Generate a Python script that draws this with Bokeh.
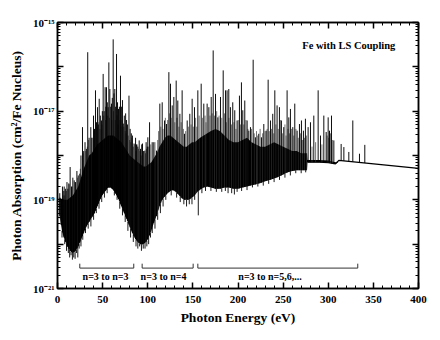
import numpy as np
from bokeh.plotting import figure
from bokeh.models import Range1d, FixedTicker, LinearAxis, LogAxis, CustomJSTickFormatter
from bokeh.core.properties import value
from bokeh.embed import file_html
from bokeh.resources import INLINE

# ---------------- data (log10 of cm^2 / Fe nucleus) ----------------
# dense unresolved band: (energy eV, lower edge, upper edge)
band_rows = [
    (2, -19.3, -18.95), (5, -19.7, -19.0), (8, -19.9, -19.0), (11, -20.05, -19.0),
    (14, -20.15, -18.95), (17, -20.2, -18.9), (20, -20.15, -18.8), (23, -20.05, -18.7),
    (26, -19.9, -18.5), (29, -19.75, -18.3), (32, -19.6, -18.15), (35, -19.5, -18.0),
    (38, -19.4, -17.95), (41, -19.3, -17.85), (44, -19.15, -17.75), (47, -19.0, -17.7),
    (50, -18.88, -17.65), (53, -18.8, -17.6), (56, -18.72, -17.55), (59, -18.72, -17.55),
    (62, -18.78, -17.55), (65, -18.88, -17.6), (68, -19.0, -17.65), (71, -19.15, -17.7),
    (74, -19.3, -17.8), (77, -19.45, -17.9), (80, -19.6, -18.0), (83, -19.75, -18.05),
    (86, -19.87, -18.1), (89, -19.95, -18.15), (92, -20.0, -18.2), (95, -20.0, -18.25),
    (98, -19.95, -18.25), (101, -19.85, -18.2), (104, -19.7, -18.15), (107, -19.5, -18.05),
    (110, -19.35, -17.95), (113, -19.15, -17.8), (116, -19.0, -17.7), (119, -18.92, -17.6),
    (122, -18.85, -17.55), (125, -18.8, -17.55), (128, -18.78, -17.6), (131, -18.82, -17.65),
    (134, -18.88, -17.7), (137, -18.95, -17.75), (140, -19.0, -17.8), (143, -19.0, -17.8),
    (146, -19.0, -17.75), (149, -18.95, -17.7), (152, -18.9, -17.7), (155, -18.82, -17.65),
    (158, -18.77, -17.6), (162, -18.72, -17.55), (166, -18.7, -17.5), (170, -18.72, -17.45),
    (175, -18.75, -17.4), (180, -18.75, -17.45), (185, -18.72, -17.55), (190, -18.72, -17.65),
    (195, -18.75, -17.7), (200, -18.75, -17.7), (205, -18.72, -17.65), (210, -18.7, -17.6),
    (215, -18.67, -17.7), (220, -18.65, -17.75), (225, -18.62, -17.8), (230, -18.58, -17.8),
    (235, -18.55, -17.75), (240, -18.52, -17.7), (245, -18.48, -17.75), (250, -18.43, -17.8),
    (255, -18.38, -17.85), (260, -18.35, -17.9), (265, -18.33, -17.9), (270, -18.33, -17.95),
    (276.5, -18.33, -17.95), (277, -18.15, -18.1), (290, -18.15, -18.1), (300, -18.16, -18.11),
    (308, -18.19, -18.15), (311, -18.15, -18.13),
]

# smooth continuum above the last absorption edge
continuum_rows = [(277, -18.15), (290, -18.15), (300, -18.16), (308, -18.19),
                  (311.7, -18.11), (400, -18.29)]

# resolved lines (energy eV, peak)
line_rows = [
    (2.5, -18.85), (4, -19.0), (5.5, -18.7), (7, -18.8), (7.4, -18.7), (9, -18.75),
    (10.5, -18.6), (11.5, -18.75), (12.5, -18.63), (14, -18.26), (15.5, -18.7), (17, -18.5),
    (18.5, -18.56), (20, -18.6), (21.5, -18.35), (23, -18.45), (24.7, -18.41), (26, -18.0),
    (27.7, -17.36), (29, -17.9), (30.5, -17.7), (32, -17.85), (33.5, -15.67), (35, -17.6),
    (36.9, -17.36), (38.3, -17.6), (39.9, -17.1), (41, -17.4), (42.1, -16.53), (43.2, -17.25),
    (44.3, -16.91), (45.2, -17.3), (46.2, -16.72), (47.5, -17.1), (48.8, -17.21), (49.7, -17.0),
    (50.6, -16.16), (51.7, -17.0), (52.8, -16.46), (53.6, -16.9), (54.3, -16.46), (55.2, -16.8),
    (56.1, -16.91), (56.9, -15.9), (58.0, -16.5), (59.0, -16.9), (59.8, -16.83), (60.7, -16.7),
    (61.7, -15.38), (62.6, -16.6), (63.5, -16.5), (64.4, -16.9), (65.4, -15.71), (66.5, -16.8),
    (67.6, -16.95), (68.6, -16.9), (69.8, -16.2), (70.8, -16.9), (72.0, -16.75), (72.9, -17.28),
    (74.0, -17.1), (75.5, -17.05), (76.5, -17.2), (77.5, -17.3), (79.2, -16.65), (80.5, -17.4),
    (81.8, -17.5), (83, -17.55), (84.8, -17.73), (86.5, -17.6), (87.5, -17.75), (89, -17.8),
    (90.5, -17.66), (92, -17.85), (93.3, -17.75), (94.2, -17.73), (95.5, -17.9), (96.8, -17.89),
    (98.2, -17.7), (99.5, -17.8),
    (100.1, -17.59), (102.0, -17.25), (104.9, -17.7), (106.7, -17.7), (109.7, -17.89),
    (113.4, -16.83), (116.0, -16.8), (118.6, -17.21), (120.8, -17.29), (123.4, -16.12),
    (125.2, -16.38), (127.1, -16.87), (128.9, -16.68), (131.5, -16.31), (133.3, -16.76),
    (135.6, -17.06), (138.1, -16.53), (140.7, -17.51), (143.7, -17.21), (146.6, -17.06),
    (149.2, -16.72), (151.8, -16.91), (155.5, -16.53), (159.2, -16.38), (162.1, -16.83),
    (165.8, -16.83), (167.7, -16.91), (170.3, -16.68), (172.5, -15.63), (175.1, -16.61),
    (177.7, -17.14), (180.6, -16.68), (183.6, -16.08), (186.2, -16.53), (187.9, -16.53),
    (189.8, -16.5), (191.6, -16.91), (194.2, -16.8), (196.4, -16.98), (199.0, -17.21),
    (201.6, -16.65), (203.8, -16.35), (205.3, -16.98), (207.5, -16.76), (210.1, -17.21),
    (212.0, -17.44), (213.8, -17.36), (216.8, -15.84), (219.3, -17.59), (223.0, -17.51),
    (226.0, -17.59), (228.6, -17.29), (231.2, -17.44), (233.4, -16.29), (236.0, -17.21),
    (238.5, -17.06), (240.8, -16.53), (243.3, -16.87), (245.9, -16.91), (248.1, -17.21),
    (250.7, -17.36), (254.4, -16.53), (256.3, -17.14), (258.1, -16.95), (260.7, -17.36),
    (262.9, -16.83), (265.5, -17.44), (268.1, -17.29), (270.3, -17.21), (272.5, -17.44),
    (274.7, -17.17), (277.7, -17.36), (280.3, -17.25), (284.0, -17.1), (288.8, -16.53),
    (291.4, -17.55), (295.1, -17.1), (297.7, -17.47), (299.9, -17.14), (301.4, -17.44),
    (303.6, -17.1), (306.2, -17.66), (314.3, -17.74), (317.3, -17.81), (322.8, -17.92),
    (327.2, -17.21), (334.6, -17.96), (340.5, -17.76),
]

# weaker lines filling the band top
fill_rows = [
    (3, -18.95), (6.3, -18.9), (8, -18.9), (10, -18.8), (13, -18.65), (16.2, -18.7),
    (19.3, -18.6), (22.3, -18.5), (25.3, -18.3), (28.4, -17.95), (31.3, -17.9), (33, -17.8),
    (34.5, -17.65), (37.6, -17.6), (40.5, -17.45), (43.7, -17.35), (45.7, -17.25), (47, -17.4),
    (49.2, -17.3), (51.2, -17.1), (53.2, -17.2), (55.7, -17.1), (57.5, -17.15), (60.2, -17.2),
    (62.1, -17.0), (64, -17.2), (66, -17.1), (67.1, -17.3), (69.2, -17.2), (70.3, -17.35),
    (71.4, -17.2), (73.5, -17.35), (75, -17.45), (76, -17.5), (78.3, -17.55), (80, -17.65),
    (81.2, -17.7), (82.4, -17.6), (84, -17.8), (85.7, -17.75), (87, -17.9), (88.3, -17.75),
    (89.8, -17.85), (91.3, -17.9), (92.7, -18.0), (95, -17.9), (97.5, -17.95),
    (98.5, -17.85), (101, -17.8), (103.3, -17.75), (108, -17.7), (111, -17.65), (112, -17.45),
    (114.5, -17.35), (117, -17.4), (119.5, -17.15), (122, -17.2), (124.3, -17.05), (126, -17.15),
    (130, -17.25), (132.4, -17.15), (134.5, -17.35), (137, -17.25), (139.5, -17.4), (142, -17.45),
    (145, -17.35), (148, -17.3), (150.5, -17.35), (153, -17.15), (154.3, -17.35), (157, -17.1),
    (160.5, -17.15), (163.5, -17.1), (164.5, -17.25), (169, -17.1), (171.4, -17.05), (174, -17.1),
    (176.4, -17.0), (179, -17.1), (182, -17.15), (185, -17.05), (187, -17.25), (190, -17.15),
    (192.8, -17.3), (195.5, -17.25), (197.7, -17.4), (200.3, -17.2), (202.7, -17.3),
    (206.4, -17.3), (208.8, -17.2), (211, -17.4), (215, -17.4), (218, -17.5), (220.5, -17.45),
    (221.8, -17.55), (224.5, -17.4), (227.3, -17.5), (230, -17.45), (232.3, -17.4),
    (234.7, -17.45), (237.2, -17.4), (239.6, -17.5), (242, -17.3), (244.6, -17.4), (247, -17.2),
    (249.4, -17.5), (252, -17.3), (253.2, -17.55), (255.4, -17.4), (257.2, -17.5),
    (259.4, -17.4), (261.8, -17.55), (264.2, -17.4), (266.8, -17.6), (269.2, -17.5),
    (271.4, -17.65), (273.6, -17.6), (275.8, -17.55),
    (282, -17.8), (286, -17.7), (293, -17.75), (298.8, -17.55), (300.6, -17.6),
    (302.5, -17.5), (304.8, -17.65),
]

# window lines reaching below the band (energy eV, minimum)
dip_rows = [
    (5, -19.85), (8, -20.0), (10, -20.15), (12, -20.2), (13.5, -20.3), (15, -20.25),
    (16.5, -20.35), (18, -20.3), (19.5, -20.33), (21, -20.2), (22.5, -20.3), (24, -20.1),
    (26, -20.05), (28, -19.9), (31, -19.75), (34, -19.65), (37, -19.6), (40, -19.45),
    (43, -19.3), (46, -19.2), (49, -19.05), (52, -18.95), (55, -18.85), (63, -18.9),
    (66, -19.0), (69, -19.2), (72, -19.35), (75, -19.5), (78, -19.7), (81, -19.85),
    (84, -19.95), (87, -20.05), (89, -20.1), (91, -20.05), (93, -20.15), (95, -20.1),
    (97, -20.1), (99, -20.05), (101, -20.0), (103, -19.85), (105, -19.75), (108, -19.65),
    (111, -19.45), (114, -19.3), (117, -19.15), (120, -19.0), (126, -18.9), (132, -18.95),
    (136, -19.05), (140, -19.1), (143, -19.15), (146, -19.1), (149, -19.1), (152, -19.0),
    (156, -19.35), (160, -18.85), (164, -18.8), (170, -18.8), (176, -18.82), (182, -18.82),
    (186, -18.8), (189, -18.85), (193, -18.85), (196, -18.88), (199, -18.82), (204, -18.8),
    (210, -18.78), (216, -18.72), (222, -18.7), (228, -18.68), (234, -18.64), (240, -18.6),
    (246, -18.55), (252, -18.5), (258, -18.45), (264, -18.4), (270, -18.4), (275, -18.38),
]

x_major = [0, 50, 100, 150, 200, 250, 300, 350, 400]
x_minor = list(range(0, 401, 10))
y_decades = [-21, -20, -19, -18, -17, -16, -15]

bracket_start = [24.7, 93.8, 155.5]
bracket_end = [84.5, 150.3, 332.7]
bracket_text = ["n=3 to n=3", "n=3 to n=4", "n=3 to n=5,6,..."]
bracket_text_x = [53.2, 117.5, 235.5]
bracket_level = -20.54
bracket_tip = -20.44
bracket_text_level = -20.73

title_text = "Fe with LS Coupling"
title_x = 322.8
title_level = -15.53

# ---------------- figure ----------------
SERIF = "Liberation Serif"

p = figure(width=432, height=332, x_range=Range1d(0, 400), y_range=Range1d(1e-21, 1e-15),
           y_axis_type="log", output_backend="svg", toolbar_location=None,
           min_border_left=57, min_border_right=14, min_border_top=22, min_border_bottom=44)
p.grid.visible = False
p.outline_line_color = "black"
p.outline_line_width = 1.5
p.background_fill_color = "white"
p.border_fill_color = "white"

band_E, band_lo, band_hi = (np.array(c) for c in zip(*band_rows))
cont_E, cont_L = (np.array(c) for c in zip(*continuum_rows))


def base_level(E):
    E = np.asarray(E, dtype=float)
    return np.where(E < 277, np.interp(E, band_E, band_lo), np.interp(E, cont_E, cont_L))


p.varea(x=band_E, y1=10 ** band_lo, y2=10 ** band_hi, fill_color="black")
p.line(cont_E, 10 ** cont_L, line_color="black", line_width=1.2)

for rows, color, width, alpha in ((fill_rows, "#333333", 0.8, 0.85),
                                  (line_rows, "black", 1.0, 0.95)):
    E, top = (np.array(c) for c in zip(*rows))
    b = base_level(E)
    p.segment(x0=E, y0=10 ** b, x1=E, y1=10 ** top, line_color=color,
              line_width=width, line_alpha=alpha)

dE, dB = (np.array(c) for c in zip(*dip_rows))
p.segment(x0=dE, y0=10 ** base_level(dE), x1=dE, y1=10 ** dB, line_color="black",
          line_width=1, line_alpha=0.9)

# brackets
xs, ys = [], []
for a, b in zip(bracket_start, bracket_end):
    xs.append([a, a, b, b])
    ys.append([10 ** bracket_tip, 10 ** bracket_level, 10 ** bracket_level, 10 ** bracket_tip])
p.multi_line(xs, ys, line_color="#333333", line_width=1)
p.text(x=bracket_text_x, y=[10 ** bracket_text_level] * 3, text=bracket_text,
       text_font=value(SERIF), text_font_style="bold", text_font_size="10px",
       text_align="center", text_baseline="middle", text_color="black")
p.text(x=[title_x], y=[10 ** title_level], text=[title_text],
       text_font=value(SERIF), text_font_style="bold", text_font_size="10.5px",
       text_align="center", text_baseline="middle", text_color="black")

# ---------------- axes ----------------
xt = FixedTicker(ticks=x_major, minor_ticks=x_minor)
yt = FixedTicker(ticks=[10.0 ** e for e in y_decades],
                 minor_ticks=[k * 10.0 ** e for e in y_decades[:-1] for k in range(2, 10)])

ylab = CustomJSTickFormatter(code="""
const e = Math.round(Math.log10(tick));
if (e % 2 === 0) return "";
const sup = {"-":"\u207b","0":"\u2070","1":"\u00b9","2":"\u00b2","3":"\u00b3","4":"\u2074",
             "5":"\u2075","6":"\u2076","7":"\u2077","8":"\u2078","9":"\u2079"};
return "10" + String(e).split("").map(c => sup[c]).join("");
""")
blank = CustomJSTickFormatter(code="return '';")


def style(ax):
    ax.major_tick_in = 6
    ax.major_tick_out = 0
    ax.minor_tick_in = 3
    ax.minor_tick_out = 0
    ax.axis_line_width = 1.5
    ax.major_tick_line_width = 1.5
    ax.minor_tick_line_width = 1
    ax.major_label_text_font = SERIF
    ax.major_label_text_font_style = "bold"
    ax.major_label_text_font_size = "11px"
    ax.major_label_text_color = "black"
    ax.axis_label_text_font = SERIF
    ax.axis_label_text_font_style = "bold"
    ax.axis_label_text_font_size = "13.5px"
    ax.axis_label_text_color = "black"


xa = p.xaxis[0]
xa.ticker = xt
style(xa)
xa.major_label_standoff = 7
xa.axis_label = "Photon Energy (eV)"
xa.axis_label_standoff = 4

ya = p.yaxis[0]
ya.ticker = yt
ya.formatter = ylab
style(ya)
ya.major_label_standoff = 3
ya.axis_label = "Photon Absorption (cm\u00b2/Fe Nucleus)"
ya.axis_label_standoff = 6

top = LinearAxis(ticker=xt, formatter=blank)
style(top)
top.major_label_standoff = 0
p.add_layout(top, "above")

right = LogAxis(ticker=yt, formatter=blank)
style(right)
right.major_label_standoff = 0
p.add_layout(right, "right")

open("out.html", "w").write(file_html(p, INLINE))
